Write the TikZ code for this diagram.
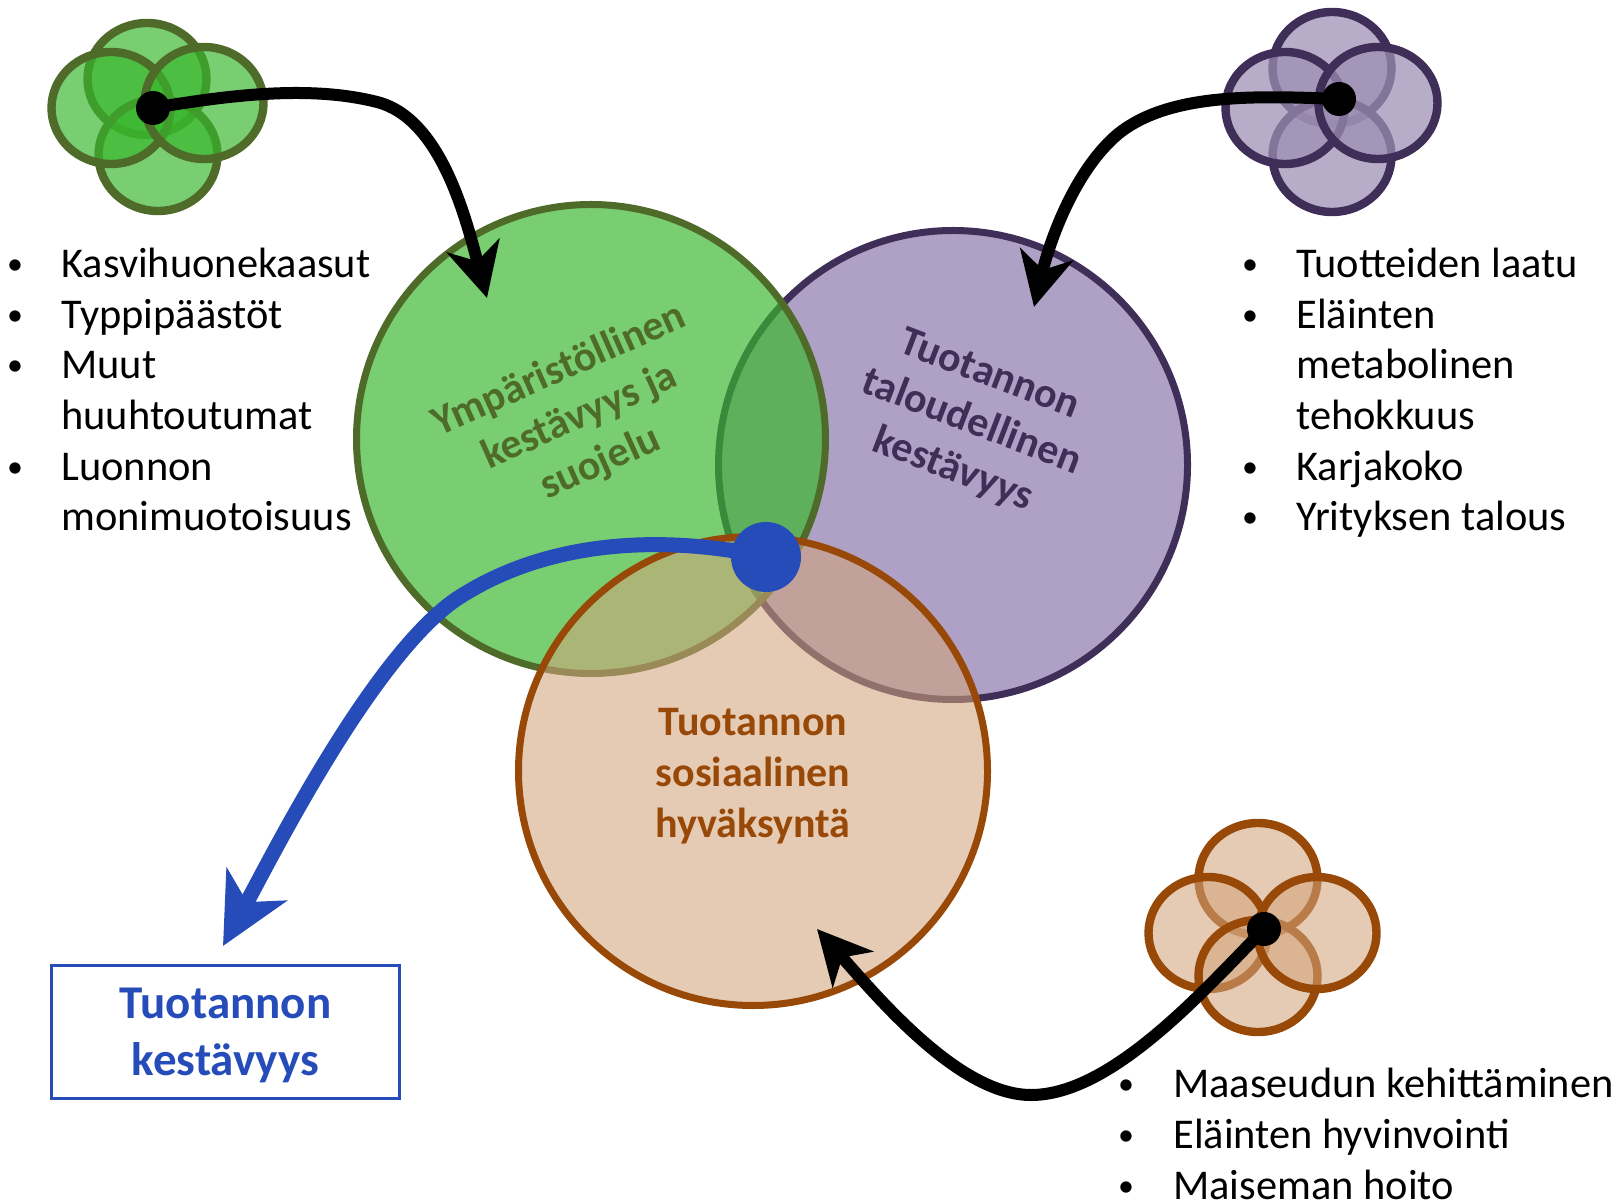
\documentclass[tikz,border=0pt]{standalone}
\usepackage{fontspec}
\setmainfont{Carlito}
\usetikzlibrary{arrows.meta}
\usetikzlibrary{shapes.geometric}
\definecolor{greenline}{RGB}{79,107,42}
\definecolor{purpleline}{RGB}{62,46,88}
\definecolor{orangeline}{RGB}{152,72,7}
\definecolor{bluemain}{RGB}{37,76,184}
\definecolor{greenfill}{RGB}{56,183,44}
\definecolor{purplefill}{RGB}{146,125,177}
\definecolor{purplesoft}{RGB}{157,142,179}
\definecolor{orangefill}{RGB}{211,163,123}

\begin{document}
\begin{tikzpicture}[
      x=0.5pt, y=-0.5pt,
      bigcircle/.style={circle, minimum size=234.5pt, line width=3.5pt},
      petal/.style={ellipse, minimum width=59.5pt, minimum height=56pt, line width=4.2pt},
      greenset/.style={draw=greenline, fill=greenfill, fill opacity=0.68},
      purpleset/.style={draw=purpleline, fill=purplefill, fill opacity=0.73},
      softset/.style={draw=purpleline, fill=purplesoft, fill opacity=0.73},
      orangeset/.style={draw=orangeline, fill=orangefill, fill opacity=0.566},
      blackdot/.style={circle, fill=black, minimum size=17pt, inner sep=0pt},
      bluedot/.style={circle, fill=bluemain, minimum size=35pt, inner sep=0pt},
      flowline/.style={line width=6pt, black, -{Stealth[length=27pt, width=27pt, inset=8pt]}},
      blueline/.style={line width=7.5pt, bluemain, -{Stealth[length=35pt, width=34pt, inset=10pt]}},
      listtext/.style={anchor=base west, inner sep=0pt, font=\fontsize{21.2}{25}\selectfont},
      listmark/.style={anchor=base, inner sep=0pt, yshift=1.5pt, font=\fontsize{16}{20}\selectfont},
      circlelabel/.style={align=center, font=\fontsize{21}{25.4}\selectfont\bfseries}
    ]
    \useasboundingbox (0,0) rectangle (1616,1202);

    % Three main circles
    \node[bigcircle, purpleset] (talous) at (953,465) {};
    \node[bigcircle, greenset] (ymparisto) at (591,439) {};
    \node[bigcircle, orangeset] (sosiaali) at (753,771) {};

    % Circle labels
    \node[circlelabel, text=greenline, rotate=24] (ymparistolabel) at (580,417)
      {Ympäristöllinen\\kestävyys ja\\suojelu};
    \node[circlelabel, text=purpleline, rotate=-21] (talouslabel) at (971,423)
      {Tuotannon\\taloudellinen\\kestävyys};
    \node[circlelabel, text=orangeline] (sosiaalilabel) at (753,776)
      {Tuotannon\\sosiaalinen\\hyväksyntä};

    % Small flowers
    \foreach \n/\x/\y in {gtop/147/79, gbottom/158/155, gleft/111/108, gright/204/103} {
      \node[petal, greenset] (\n) at (\x,\y) {};
    }
    \foreach \n/\x/\y in {ptop/1332/68, pbottom/1332/156, pleft/1285/108, pright/1378/103} {
      \node[petal, softset] (\n) at (\x,\y) {};
    }
    \foreach \n/\x/\y in {otop/1258/879, oleft/1208/933, obottom/1258/976, oright/1317/933} {
      \node[petal, orangeset] (\n) at (\x,\y) {};
    }

    % Dots and arrow ends
    \node[blackdot] (gdot) at (153,108) {};
    \node[blackdot] (pdot) at (1339,99) {};
    \node[blackdot] (odot) at (1264,929) {};
    \node[bluedot] (bdot) at (766,557) {};
    \coordinate (gtip) at (487,298);
    \coordinate (ptip) at (1034,307);
    \coordinate (otip) at (817,929);

    % Result box
    \node[draw=bluemain, line width=1.5pt, minimum width=174pt, minimum height=66.5pt,
      inner sep=0pt, align=center, text=bluemain, text depth=0pt,
      font=\fontsize{23.5}{28.5}\selectfont\bfseries]
      (tulos) at (225.5,1031.5) {Tuotannon\\kestävyys};
    \coordinate (btip) at (223,946);

    % Arrows
    \draw[flowline] (gdot.center) .. controls (230,95) and (310,85) .. (377,102)
      .. controls (440,118) and (465,215) .. (gtip);
    \draw[flowline] (pdot.center) .. controls (1260,96) and (1170,92) .. (1118,134)
      .. controls (1075,170) and (1050,240) .. (ptip);
    \draw[flowline] (odot.center) .. controls (1200,995) and (1110,1095) .. (1031,1095)
      .. controls (960,1095) and (880,1000) .. (otip);
    \draw[blueline] (bdot.center) .. controls (690,540) and (560,530) .. (455,600)
      .. controls (370,660) and (270,860) .. (btip);

    % Lists
    \foreach \n/\y/\txt in {a/278/Kasvihuonekaasut, b/328.5/Typpipäästöt, c/379/Muut,
        d/429.5/huuhtoutumat, e/481/Luonnon, f/531/monimuotoisuus} {
      \node[listtext] (left\n) at (61,\y) {\txt};
    }
    \foreach \n/\y/\txt in {a/278/Tuotteiden laatu, b/328.5/Eläinten, c/379/metabolinen,
        d/429.5/tehokkuus, e/481/Karjakoko, f/531/Yrityksen talous} {
      \node[listtext] (right\n) at (1296,\y) {\txt};
    }
    \foreach \n/\y/\txt in {a/1097/Maaseudun kehittäminen, b/1148/Eläinten hyvinvointi, c/1199/Maiseman hoito} {
      \node[listtext] (low\n) at (1173,\y) {\txt};
    }

    % Bullets
    \foreach \n/\y in {a/278, b/328.5, c/379, e/481} {
      \node[listmark] (leftmark\n) at (15,\y) {•};
    }
    \foreach \n/\y in {a/278, b/328.5, e/481, f/531} {
      \node[listmark] (rightmark\n) at (1250,\y) {•};
    }
    \foreach \n/\y in {a/1097, b/1148, c/1199} {
      \node[listmark] (lowmark\n) at (1126,\y) {•};
    }
  \end{tikzpicture}
\end{document}
